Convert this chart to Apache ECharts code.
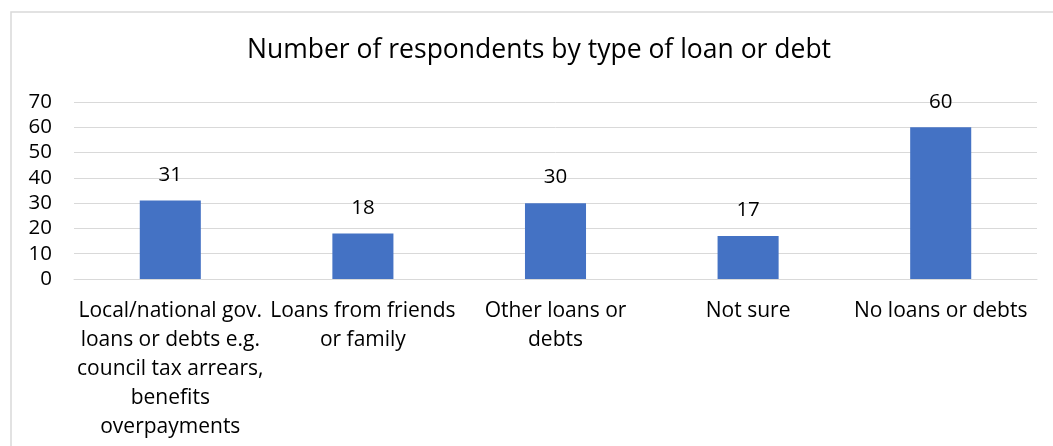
<!DOCTYPE html>
<html>
<head>
<meta charset="utf-8">
<script src="https://cdn.jsdelivr.net/npm/echarts@6/dist/echarts.min.js"></script>
<style>
  html, body { margin: 0; padding: 0; background: #ffffff; }
  #chart { width: 1053px; height: 446px; }
</style>
</head>
<body>
<div id="chart"></div>
<script>
// Loan / debt categories (line breaks as shown under each bar)
const categories = [
  'Local/national gov.\nloans or debts e.g.\ncouncil tax arrears,\nbenefits\noverpayments',
  'Loans from friends\nor family',
  'Other loans or\ndebts',
  'Not sure',
  'No loans or debts'
];
// Number of respondents per category
const respondents = [31, 18, 30, 17, 60];
// Value axis range
const yMin = 0;
const yMax = 70;
const yStep = 10;

const FONT = '"Open Sans", Lato, sans-serif';
const chart = echarts.init(document.getElementById('chart'), null, { renderer: 'canvas' });

chart.setOption({
  backgroundColor: '#ffffff',
  animation: false,
  textStyle: { fontFamily: FONT, color: '#000000' },
  title: {
    text: 'Number of respondents by type of loan or debt',
    left: 247,
    top: 37,
    padding: 0,
    textStyle: { fontFamily: FONT, fontSize: 26.5, fontWeight: 'normal', color: '#000000' }
  },
  graphic: [{
    type: 'rect',
    silent: true,
    shape: { x: 11, y: 12, width: 1100, height: 500 },
    style: { fill: 'none', stroke: '#d9d9d9', lineWidth: 1.5 }
  }],
  grid: { left: 74, right: 16, top: 102, bottom: 167, containLabel: false },
  xAxis: {
    type: 'category',
    data: categories,
    axisLine: { show: true, lineStyle: { color: '#d9d9d9', width: 1 } },
    axisTick: { show: false },
    axisLabel: {
      interval: 0,
      margin: 18,
      fontFamily: FONT,
      fontSize: 21,
      lineHeight: 29,
      color: '#000000',
      align: 'center'
    }
  },
  yAxis: {
    type: 'value',
    min: yMin,
    max: yMax,
    interval: yStep,
    axisLine: { show: false },
    axisTick: { show: false },
    splitLine: { show: true, lineStyle: { color: '#d9d9d9', width: 1 } },
    axisLabel: {
      margin: 22,
      fontFamily: FONT,
      fontSize: 20.5,
      color: '#000000'
    }
  },
  series: [{
    type: 'bar',
    data: respondents,
    barWidth: '31.7%',
    itemStyle: { color: '#4472c4' },
    label: {
      show: true,
      position: 'top',
      distance: 15,
      fontFamily: FONT,
      fontSize: 20.5,
      color: '#000000'
    }
  }]
});
</script>
</body>
</html>
